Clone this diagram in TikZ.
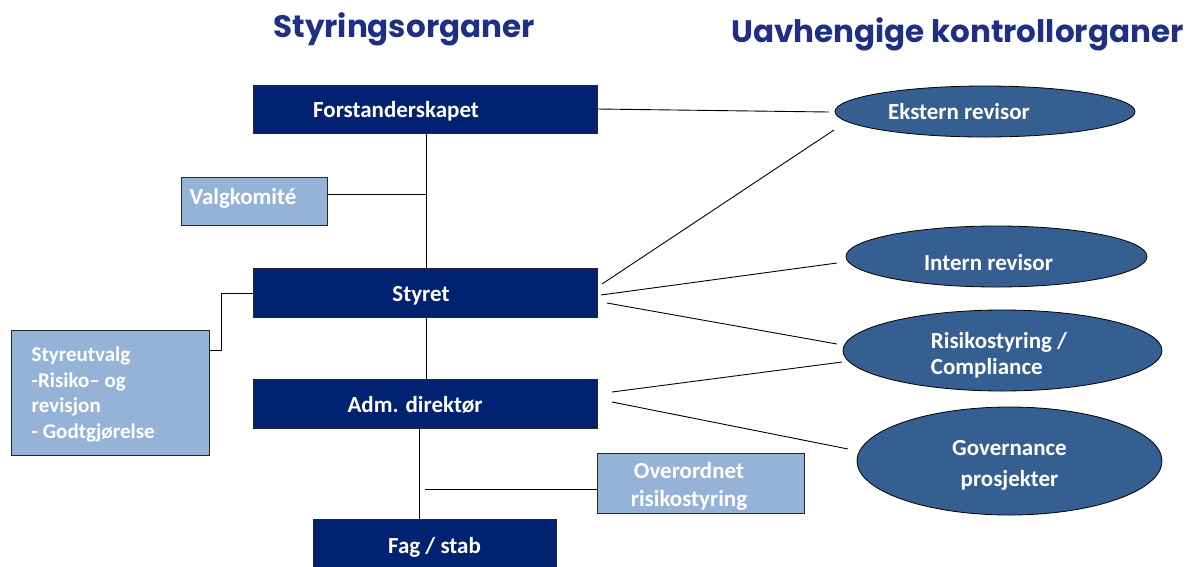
\documentclass[tikz,border=0pt]{standalone}
\usepackage{fontspec}
\setmainfont{Carlito}
\newfontfamily\headfont{Poppins}
\usetikzlibrary{shapes.geometric}
\definecolor{navy}{HTML}{002270}
\definecolor{steel}{HTML}{365F91}
\definecolor{light}{HTML}{95B3D7}
\definecolor{headcol}{HTML}{1F2F86}
\tikzset{
  navybox/.style={draw=black!85, line width=1pt, fill=navy, inner sep=0pt},
  lightbox/.style={draw=black!85, line width=1pt, fill=light, inner sep=0pt},
  oval/.style={ellipse, draw=black, line width=0.8pt, fill=steel, inner sep=0pt},
  lbl/.style={text=white, font=\bfseries\fontsize{23}{27}\selectfont, inner sep=0pt, align=center},
  conn/.style={draw=black, line width=0.9pt},
  heading/.style={text=headcol, font=\headfont\bfseries\fontsize{31}{34}\selectfont, inner sep=0pt}
}
\begin{document}
\begin{tikzpicture}[x=1pt,y=-1pt]
\useasboundingbox (0,0) rectangle (1192,566);
\clip (0,0) rectangle (1192,566);
% headings
\node[heading] (h1) at (404,29) {Styringsorganer};
\node[heading, anchor=west] (h2) at (731,34) {Uavhengige kontrollorganer};
% left boxes
\node[navybox, minimum width=344pt, minimum height=48pt,
  label={[lbl, xshift=-29pt, yshift=-2pt]center:Forstanderskapet}] (forst) at (425,109) {};
\node[lightbox, minimum width=146pt, minimum height=48pt,
  label={[lbl, anchor=west, xshift=9pt, yshift=3pt]west:Valgkomité}] (valg) at (254,201) {};
\node[navybox, minimum width=344pt, minimum height=49pt,
  label={[lbl, xshift=-4pt, yshift=-3pt]center:Styret}] (styret) at (425,292.5) {};
\node[navybox, minimum width=344pt, minimum height=49pt,
  label={[lbl, xshift=-10pt, yshift=-1pt]center:Adm. direktør}] (adm) at (425,403.5) {};
\node[navybox, minimum width=243pt, minimum height=60pt, anchor=north,
  label={[lbl, yshift=-39pt]north:Fag / stab}] (fag) at (434.5,519) {};
\node[lightbox, minimum width=198pt, minimum height=125pt,
  label={[lbl, anchor=west, align=left, xshift=21pt, yshift=-2pt, font=\bfseries\fontsize{21}{25.7}\selectfont]west:{Styreutvalg\\-Risiko– og\\revisjon\\- Godtgjørelse}}] (utv) at (110,392.5) {};
\node[lightbox, minimum width=207pt, minimum height=60pt,
  label={[lbl, xshift=-12pt, yshift=-3pt, font=\bfseries\fontsize{23}{28}\selectfont]center:{Overordnet\\risikostyring}}] (over) at (701,483) {};
% ellipses
\node[oval, minimum width=300pt, minimum height=51pt,
  label={[lbl, xshift=-26pt, yshift=0pt]center:Ekstern revisor}] (ekst) at (985,111.5) {};
\node[oval, minimum width=301pt, minimum height=61pt,
  label={[lbl, xshift=-8pt, yshift=-6.5pt]center:Intern revisor}] (intern) at (996.5,256.5) {};
\node[oval, minimum width=319pt, minimum height=81pt,
  label={[lbl, align=left, xshift=-3.5pt, yshift=-4.5pt, font=\bfseries\fontsize{23}{26}\selectfont]center:{Risikostyring /\\Compliance}}] (risk) at (1002.5,350.5) {};
\node[oval, minimum width=305pt, minimum height=108pt,
  label={[lbl, yshift=-4.5pt, font=\bfseries\fontsize{23}{31}\selectfont]center:{Governance\\prosjekter}}] (gov) at (1009.5,461) {};
% coordinates for free line ends
\coordinate (e1) at (829,112);
\coordinate (e2) at (834,130);
\coordinate (i1) at (837,263);
\coordinate (r1) at (837,344);
\coordinate (r2) at (842,362);
\coordinate (g1) at (848,449);
\coordinate (s1) at (602,284);
\coordinate (s2) at (601,295);
\coordinate (s3) at (607,303);
\coordinate (a1) at (612,392);
\coordinate (a2) at (612,402);
\coordinate (j1) at (426,194);
\coordinate (j2) at (425,489);
\coordinate (k1) at (221,293);
\coordinate (k2) at (221,350);
% connectors
\draw[conn] (forst.east |- 0,109) -- (e1);
\draw[conn] (s1) -- (e2);
\draw[conn] (s2) -- (i1);
\draw[conn] (s3) -- (r1);
\draw[conn] (a1) -- (r2);
\draw[conn] (a2) -- (g1);
\draw[conn] (forst.south -| 426,0) -- (styret.north -| 426,0);
\draw[conn] (valg.east |- j1) -- (j1);
\draw[conn] (styret.south -| 426,0) -- (adm.north -| 426,0);
\draw[conn] (adm.south -| 419,0) -- (fag.north -| 419,0);
\draw[conn] (j2) -- (over.west |- j2);
\draw[conn] (styret.west |- k1) -- (k1) -- (k2) -- (utv.east |- k2);
\end{tikzpicture}
\end{document}
